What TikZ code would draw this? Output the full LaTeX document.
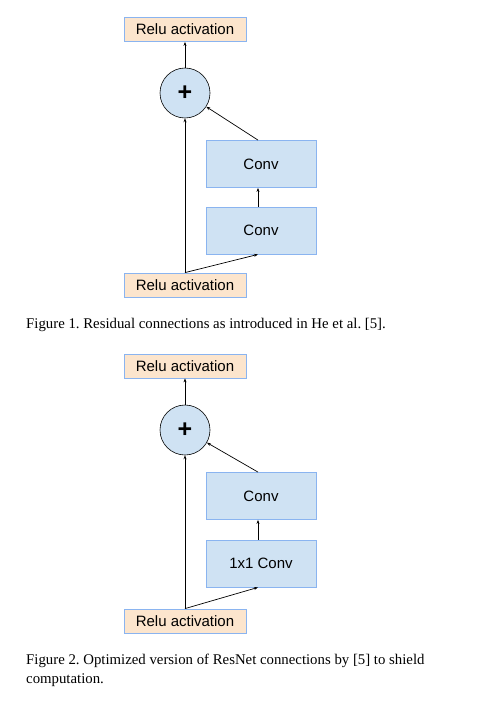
\documentclass[tikz,border=0pt]{standalone}
\usepackage{fontspec}
\setmainfont{Liberation Serif}
\setsansfont{Liberation Sans}
\usetikzlibrary{arrows.meta}
\definecolor{reluFill}{HTML}{FCE5CD}
\definecolor{convFill}{HTML}{CFE2F3}
\definecolor{boxLine}{HTML}{8AB4F0}
\frenchspacing
\begin{document}
\begin{tikzpicture}[x=1pt, y=-1pt,
    relu/.style={draw=boxLine, fill=reluFill, line width=0.8pt, minimum width=122pt, minimum height=24pt, inner sep=0pt,
        font=\sffamily\fontsize{15}{18}\selectfont},
    conv/.style={draw=boxLine, fill=convFill, line width=0.8pt, minimum width=110pt, minimum height=47pt, inner sep=0pt,
        font=\sffamily\fontsize{15}{18}\selectfont},
    addop/.style={circle, draw, fill=convFill, line width=0.6pt, minimum size=50pt, inner sep=0pt,
        font=\sffamily\bfseries\fontsize{25}{25}\selectfont},
    flow/.style={line width=0.7pt, -{Stealth[length=4pt, width=3pt]}},
    caption/.style={anchor=base west, inner sep=0pt, font=\fontsize{14.8}{19}\selectfont}]

    \useasboundingbox (0,0) rectangle (494,711);

    % figure 1
    \node [relu] (outA) at (185, 29.5) {Relu activation};
    \node [addop] (addA) at (185, 93) {+};
    \node [conv] (convTopA) at (261, 164) {Conv};
    \node [conv] (convLowA) at (261, 230.5) {Conv};
    \node [relu] (inA) at (185, 285) {Relu activation};

    \draw [flow] (inA.north) -- ([xshift=-3pt]convLowA.south);
    \draw [flow] (inA.north) -- (addA);
    \draw [flow] ([xshift=-3pt]convLowA.north) -- ([xshift=-3pt]convTopA.south);
    \draw [flow] ([xshift=-3pt]convTopA.north) -- (addA);
    \draw [flow] (addA) -- (outA);

    \node [caption] (capA) at (26, 328) {Figure 1. Residual connections as introduced in He et al. [5].};

    % figure 2
    \node [relu] (outB) at (185, 366) {Relu activation};
    \node [addop] (addB) at (185, 430) {+};
    \node [conv] (convTopB) at (261, 496) {Conv};
    \node [conv] (convLowB) at (261, 563.5) {1x1 Conv};
    \node [relu] (inB) at (185, 621) {Relu activation};

    \draw [flow] (inB.north) -- ([xshift=-3pt]convLowB.south);
    \draw [flow] (inB.north) -- (addB);
    \draw [flow] ([xshift=-3pt]convLowB.north) -- ([xshift=-3pt]convTopB.south);
    \draw [flow] ([xshift=-3pt]convTopB.north) -- (addB);
    \draw [flow] (addB) -- (outB);

    \node [caption] (capB) at (26, 664) {Figure 2. Optimized version of ResNet connections by [5] to shield};
    \node [caption] (capC) at (26, 683) {computation.};

\end{tikzpicture}
\end{document}
